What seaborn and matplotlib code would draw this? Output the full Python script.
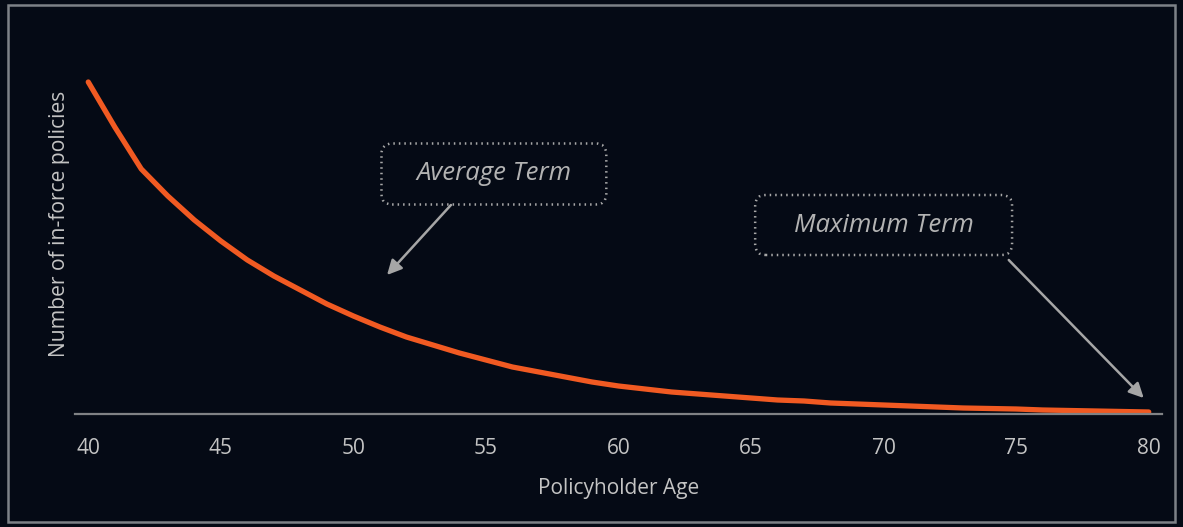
import matplotlib
matplotlib.use("Agg")
import matplotlib.pyplot as plt
import seaborn as sns
import pandas as pd
from matplotlib.patches import Rectangle, FancyBboxPatch

# Policyholder age and number of in-force policies still on the books
ages = list(range(40, 81))
policies = [9960, 8610, 7350, 6540, 5820, 5190, 4620, 4140, 3720, 3300,
            2940, 2610, 2310, 2070, 1830, 1620, 1410, 1260, 1110, 960,
            840, 750, 660, 600, 540, 480, 420, 390, 330, 300,
            270, 240, 210, 180, 165, 150, 120, 105, 90, 75, 60]
tick_ages = [40, 45, 50, 55, 60, 65, 70, 75, 80]

# Callouts: label, box centre, box size (years, policies), arrow start, arrow tip
callout_labels = ["Average Term", "Maximum Term"]
callout_centres = [(55.3, 7200), (70.0, 5670)]
callout_sizes = [(8.48, 1830), (9.69, 1800)]
arrow_starts = [(53.68, 6270), (74.72, 4620)]
arrow_tips = [(51.27, 4170), (79.81, 480)]

df = pd.DataFrame({"age": ages, "policies": policies})

BG = "#050a15"
sns.set_theme(style="dark")
plt.rcParams["font.family"] = ["Open Sans", "DejaVu Sans"]

fig = plt.figure(figsize=(11.83, 5.27), dpi=100, facecolor=BG)
W, H = 1183, 527
ax = fig.add_axes([75 / W, 1 - 414 / H, (1162 - 75) / W, (414 - 60) / H])
ax.set_facecolor(BG)

sns.lineplot(data=df, x="age", y="policies", ax=ax, color="#f15a22",
             linewidth=3.8, solid_capstyle="round", solid_joinstyle="round")

ax.set_xlim(39.5, 80.5)
ax.set_ylim(0, 354 * 30)
ax.set_xticks(tick_ages)
ax.set_yticks([])
ax.tick_params(axis="x", length=0, pad=17, labelsize=15, labelcolor="#c4c4c4")
ax.grid(False)
for side in ("top", "right", "left"):
    ax.spines[side].set_visible(False)
ax.spines["bottom"].set_color("#808285")
ax.spines["bottom"].set_linewidth(1.6)

ax.set_xlabel("Policyholder Age", fontsize=15, color="#c4c4c4", labelpad=14)
ax.set_ylabel("Number of in-force policies", fontsize=15.2, color="#c4c4c4",
              va="center")
ax.yaxis.set_label_coords(-0.0138, 0.537)

# aspect factor so rounded corners stay circular in screen space
x_per_px = (80.5 - 39.5) / (1162 - 75)
y_per_px = 30
aspect = y_per_px / x_per_px

for label, (cx, cy), (bw, bh), start, tip in zip(
        callout_labels, callout_centres, callout_sizes, arrow_starts, arrow_tips):
    box = FancyBboxPatch((cx - bw / 2, cy - bh / 2), bw, bh,
                         boxstyle="round,pad=0,rounding_size=0.4",
                         mutation_aspect=aspect, fc="none", ec="#a8a8a8",
                         lw=1.8, ls=(0, (0.6, 1.6)), clip_on=False)
    ax.add_patch(box)
    ax.text(cx, cy, label, ha="center", va="center", fontsize=18.5,
            style="italic", color="#b3b3b3")
    ax.annotate("", xy=tip, xytext=start,
                arrowprops=dict(arrowstyle="-|>", color="#a6a6a6", lw=1.8,
                                mutation_scale=22, shrinkA=0, shrinkB=0))

# Outer frame around the panel
fig.patches.append(Rectangle((8 / W, 5 / H), (1175 - 8) / W, (522 - 5) / H,
                             transform=fig.transFigure, fill=False,
                             ec="#7d8187", lw=1.8))

fig.savefig("out.png", dpi=100, facecolor=BG)
